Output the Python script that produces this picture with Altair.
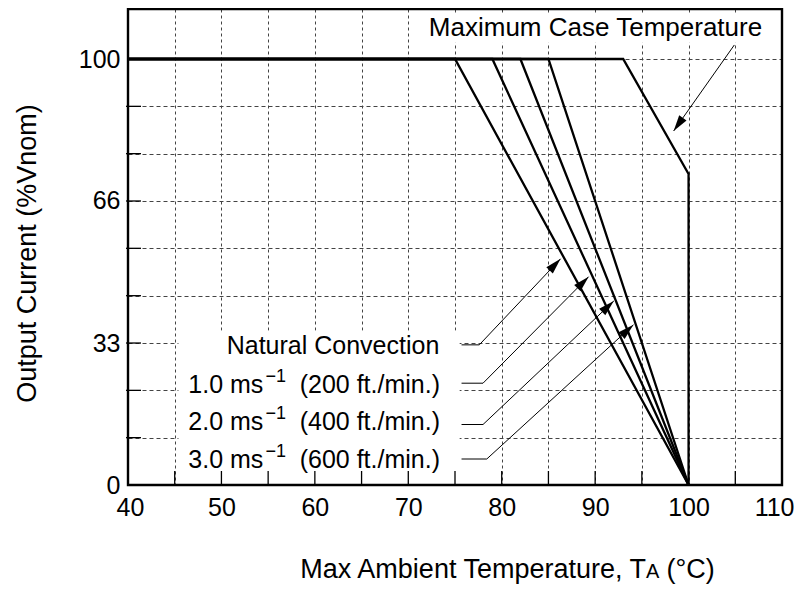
import altair as alt
import pandas as pd

# ---------------- values ----------------
CURVE_NAMES = ["Natural Convection", "1.0 ms-1", "2.0 ms-1", "3.0 ms-1"]
CURVE_START_T = [75, 79, 82, 85]          # deg C where derating starts
CURVE_ZERO_T = [100, 100, 100, 100]       # deg C where current reaches 0
CASE_T = [40, 93, 100, 100]               # maximum case temperature curve
CASE_PCT = [100, 100, 73, 0]
T_LEFT = 40
FULL_PCT = 100

X_TICKS = [40, 45, 50, 55, 60, 65, 70, 75, 80, 85, 90, 95, 100, 105, 110]
X_TICK_LABELS = ["40", "", "50", "", "60", "", "70", "", "80", "", "90", "", "100", "", "110"]
Y_TICKS = [0, 11.11, 22.22, 33.33, 44.44, 55.56, 66.67, 77.78, 88.89, 100]
Y_TICK_LABELS = ["0", "", "", "33", "", "", "66", "", "", "100"]

LEADER_START_T = [75.7, 75.7, 75.7, 75.7]
LEADER_ELBOW_T = [77.6, 78.0, 78.0, 78.4]
LEADER_PCT = [32.9, 23.9, 14.2, 6.1]
ARROW_TIP_T = [86.3, 89.3, 92.0, 94.1]
ARROW_TIP_PCT = [53.1, 48.9, 43.2, 37.6]
ARROW_ANGLE = [43.4, 44.7, 46.6, 47.6]
CASE_ARROW_T = [104.9, 98.4]
CASE_ARROW_PCT = [103.3, 83.1]
CASE_ARROW_ANGLE = 215.3

LABEL_BOX_T = [45.4, 75.5]
LABEL_BOX_PCT = [0, 36.2]
TITLE_BOX_T = [72.0, 108.4]
TITLE_BOX_PCT = [103.8, 110.8]

SPEED_TEXT = ["1.0 ms", "2.0 ms", "3.0 ms"]
FLOW_TEXT = ["(200 ft./min.)", "(400 ft./min.)", "(600 ft./min.)"]
SUP_TEXT = "\u22121"

# ---------------- tables ----------------
rows = []
for name, t0, tz in zip(CURVE_NAMES, CURVE_START_T, CURVE_ZERO_T):
    for k, (t, p) in enumerate([(T_LEFT, FULL_PCT), (t0, FULL_PCT), (tz, 0)]):
        rows.append({"series": name, "k": k, "t": t, "pct": p})
for k, (t, p) in enumerate(zip(CASE_T, CASE_PCT)):
    rows.append({"series": "Maximum Case Temperature", "k": k, "t": t, "pct": p})
curves = pd.DataFrame(rows)

lrows = []
for i in range(len(LEADER_PCT)):
    pts = [(LEADER_START_T[i], LEADER_PCT[i]), (LEADER_ELBOW_T[i], LEADER_PCT[i]),
           (ARROW_TIP_T[i], ARROW_TIP_PCT[i])]
    for k, (t, p) in enumerate(pts):
        lrows.append({"id": i, "k": k, "t": t, "pct": p})
for k, (t, p) in enumerate(zip(CASE_ARROW_T, CASE_ARROW_PCT)):
    lrows.append({"id": 9, "k": k, "t": t, "pct": p})
leaders = pd.DataFrame(lrows)

heads = pd.DataFrame({
    "t": ARROW_TIP_T + [CASE_ARROW_T[-1]],
    "pct": ARROW_TIP_PCT + [CASE_ARROW_PCT[-1]],
    "angle": ARROW_ANGLE + [CASE_ARROW_ANGLE],
})
boxes = pd.DataFrame({
    "t": [LABEL_BOX_T[0], TITLE_BOX_T[0]], "t2": [LABEL_BOX_T[1], TITLE_BOX_T[1]],
    "pct": [LABEL_BOX_PCT[0], TITLE_BOX_PCT[0]], "pct2": [LABEL_BOX_PCT[1], TITLE_BOX_PCT[1]],
})
xt = pd.DataFrame({"t": X_TICKS[1:-1]})
yt = pd.DataFrame({"pct": Y_TICKS[1:-1]})
one = pd.DataFrame({"a": [0]})

# ---------------- layout / style ----------------
W, H = 654, 476
FONT = "Liberation Sans"
FS = 25
TFS = 27

XS = alt.Scale(domain=[40, 110], nice=False, zero=False)
YS = alt.Scale(domain=[0, 111.74], nice=False, zero=False)


def arr(vals):
    return "[" + ",".join(repr(v) if not isinstance(v, str) else "'" + v + "'" for v in vals) + "]"


x_axis = alt.Axis(values=X_TICKS,
                  labelExpr=arr(X_TICK_LABELS) + "[indexof(" + arr(X_TICKS) + ", datum.value)]",
                  grid=True, gridDash=[3, 3], gridColor="#444", gridWidth=1,
                  ticks=False, tickSize=0, domain=False, labelFlush=True, labelFlushOffset=12,
                  labelOverlap=False,
                  labelFont=FONT, labelFontSize=FS, labelColor="black", labelPadding=10)
y_axis = alt.Axis(values=Y_TICKS,
                  labelExpr=arr(Y_TICK_LABELS) + "[indexof(" + arr(Y_TICKS) + ", datum.value)]",
                  grid=True, gridDash=[4, 3], gridColor="#444", gridWidth=1,
                  ticks=False, tickSize=0, domain=False, labelFlush=False, labelOverlap=False,
                  labelFont=FONT, labelFontSize=FS, labelColor="black", labelPadding=8,
                  title="Output Current (%Vnom)", titleFont=FONT, titleFontSize=TFS,
                  titleFontWeight="normal", titleColor="black", titleAngle=270,
                  titleAlign="center", titleBaseline="middle", titleX=-101, titleY=H / 2 + 6)

X = alt.X("t:Q", scale=XS, axis=x_axis, title=None)
Y = alt.Y("pct:Q", scale=YS, axis=y_axis)

box_layer = alt.Chart(boxes).mark_rect(color="white", opacity=1).encode(
    x=X, x2="t2:Q", y=Y, y2="pct2:Q")

xtick_layer = alt.Chart(xt).mark_rule(color="black", strokeWidth=1.3).encode(
    x=X, y=alt.value(H - 14), y2=alt.value(H))
ytick_layer = alt.Chart(yt).mark_rule(color="black", strokeWidth=1.3).encode(
    y=Y, x=alt.value(-2), x2=alt.value(13))

curve_layer = alt.Chart(curves).mark_line(color="black", strokeWidth=2.3, strokeJoin="miter").encode(
    x=X, y=Y, detail="series:N", order="k:Q")

leader_layer = alt.Chart(leaders).mark_line(color="black", strokeWidth=1).encode(
    x=X, y=Y, detail="id:N", order="k:Q")

ARROW = "M0,0L0.28,1L-0.28,1Z"
head_layer = alt.Chart(heads).mark_point(shape=ARROW, filled=True, size=1024, color="black",
                                         opacity=1, strokeWidth=0).encode(
    x=X, y=Y, angle=alt.Angle("angle:Q", scale=None))


def txt(s, x, y, size=FS, align="left"):
    return alt.Chart(one).mark_text(text=s, align=align, baseline="alphabetic", font=FONT,
                                    fontSize=size, color="black").encode(
        x=alt.value(x), y=alt.value(y))


texts = [txt("Maximum Case Temperature", 467.5, 26.5, size=26, align="center"),
         txt("Natural Convection", 311.3, 345.3, align="right")]
base_y = [383.7, 421.0, 458.5]
for s, f, by in zip(SPEED_TEXT, FLOW_TEXT, base_y):
    texts.append(txt(s, 60.3, by))
    texts.append(txt(SUP_TEXT, 137.5, by - 11, size=18))
    texts.append(txt(f, 312.0, by, align="right"))

# x-axis title with smaller "A" in T_A
TITLE_Y = 569
texts.append(txt("Max Ambient Temperature, T", 518.0, TITLE_Y, size=TFS, align="right"))
texts.append(txt("A", 518.0, TITLE_Y, size=20))
texts.append(txt("(\u00b0C)", 538.5, TITLE_Y, size=TFS))

frame = alt.Chart(one).mark_rect(filled=False, stroke="black", strokeWidth=2.4).encode(
    x=alt.value(0), x2=alt.value(W), y=alt.value(0), y2=alt.value(H))

chart = alt.layer(box_layer, xtick_layer, ytick_layer, curve_layer, leader_layer, head_layer,
                  *texts, frame).properties(
    width=W, height=H,
    padding={"left": 120, "top": 1, "right": 12, "bottom": 99},
    autosize=alt.AutoSizeParams(type="none"),
    background="white",
).configure_view(stroke=None)

chart.save("out.html", embed_options={"renderer": "svg", "actions": False})
